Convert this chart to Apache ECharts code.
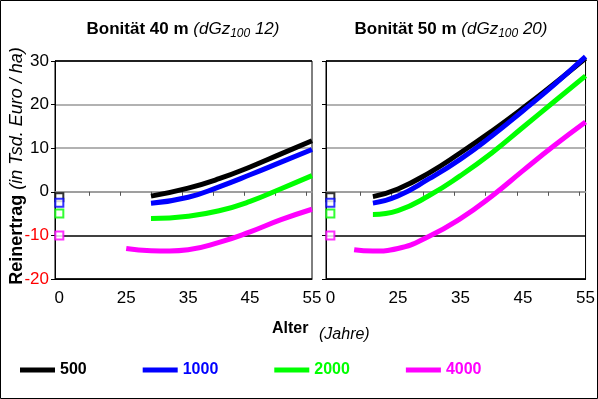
<!DOCTYPE html>
<html>
<head>
<meta charset="utf-8">
<script src="https://cdn.jsdelivr.net/npm/echarts@6/dist/echarts.min.js"></script>
<style>
	html, body { margin: 0; padding: 0; background: #fff; }
	#chart { width: 598px; height: 399px; }
</style>
</head>
<body>
<div id="chart"></div>
<script>
// Reihen / Pflanzenzahlen
var names = ['500', '1000', '2000', '4000'];
var colors = ['#000000', '#0000ff', '#00ff00', '#ff00ff'];

// Werte bei Alter 0 (Kulturkosten)
var startVals = [-1.25, -2.5, -5, -10];

// Bonität 40 m
var ages40 = [25, 29, 32, 35, 40, 45, 50, 55];
var black40 = [null, -1.0, null, 0.85, 3.0, 5.7, 8.7, 11.7];
var blue40 = [null, -2.65, null, -1.25, 1.15, 3.9, 6.8, 9.7];
var green40 = [null, -6.15, null, -5.6, -4.35, -2.2, 0.7, 3.7];
var pink40 = [-13.0, -13.5, -13.57, -13.3, -11.6, -9.2, -6.4, -4.0];

// Bonität 50 m
var ages50 = [18, 21, 25, 30, 35, 40, 45, 50, 55];
var black50 = [null, -1.1, 0.65, 4.35, 8.95, 13.9, 19.2, 24.8, 30.6];
var blue50 = [null, -2.6, -0.95, 3.0, 7.5, 12.8, 18.6, 24.6, 31.0];
var green50 = [null, -5.2, -4.3, -0.85, 3.7, 8.9, 14.8, 20.7, 26.6];
var pink50 = [-13.3, -13.6, -13.0, -10.2, -6.15, -1.0, 4.85, 10.6, 16.0];

// Achsen
var xLabels = [0, 25, 35, 45, 55];
var xTicks = [19, 24, 29, 34, 39, 44, 49, 54];
var zeroPos = 14.2; // Alter 0 wird links am Rand gezeichnet (Achsenbruch)

var font = "'Liberation Sans', Arial, sans-serif";

function pairs(ages, vals) {
	var out = [];
	for (var i = 0; i < ages.length; i++) {
		if (vals[i] !== null) out.push([ages[i], vals[i]]);
	}
	return out;
}

function xPos(v) {
	return v === 0 ? zeroPos : v;
}

var myChart = echarts.init(document.getElementById('chart'));

var data40 = [black40, blue40, green40, pink40];
var data50 = [black50, blue50, green50, pink50];

var series = [];
for (var i = 0; i < names.length; i++) {
	series.push({
		name: names[i], type: 'line', xAxisIndex: 0, yAxisIndex: 0,
		smooth: 0.5, symbol: 'none', color: colors[i], clip: false,
		lineStyle: { width: 5, color: colors[i] },
		data: pairs(ages40, data40[i]), z: 3
	});
	series.push({
		name: names[i], type: 'line', xAxisIndex: 2, yAxisIndex: 1,
		smooth: 0.5, symbol: 'none', color: colors[i], clip: false,
		lineStyle: { width: 5, color: colors[i] },
		data: pairs(ages50, data50[i]), z: 3
	});
}
for (var j = 0; j < names.length; j++) {
	var sq = {
		name: names[j], type: 'scatter', symbol: 'rect', symbolSize: 8,
		itemStyle: { color: '#fff', borderColor: colors[j], borderWidth: 2 },
		z: 4
	};
	series.push(echarts.util.merge({ xAxisIndex: 0, yAxisIndex: 0, data: [[xPos(0), startVals[j]]] }, sq, true));
	series.push(echarts.util.merge({ xAxisIndex: 2, yAxisIndex: 1, data: [[xPos(0), startVals[j]]] }, sq, true));
}

function labelAxis(gridIndex) {
	return {
		type: 'value', gridIndex: gridIndex, position: 'bottom',
		min: 13.5, max: 55,
		axisLine: { show: true, onZero: false, lineStyle: { color: '#000', width: 1 } },
		axisTick: { show: false },
		splitLine: { show: false },
		axisLabel: {
			customValues: xLabels.map(xPos),
			formatter: function(v) { return v < 20 ? '0' : String(v); },
			color: '#000', fontSize: 17, fontFamily: font, margin: 11
		}
	};
}

function zeroAxis(gridIndex) {
	return {
		type: 'value', gridIndex: gridIndex, position: 'top',
		min: 13.5, max: 55,
		axisLine: { show: true, onZero: true, lineStyle: { color: '#999', width: 1.5 } },
		axisTick: { show: true, inside: true, length: 4, customValues: xTicks, lineStyle: { color: '#555' } },
		axisLabel: { show: false },
		splitLine: { show: false }
	};
}

function yAxis(gridIndex, labels) {
	return {
		type: 'value', gridIndex: gridIndex,
		min: -20, max: 30, interval: 10,
		axisLine: { show: true, lineStyle: { color: '#000' } },
		axisTick: { show: true, length: 4, lineStyle: { color: '#000' } },
		splitLine: { show: true, lineStyle: { color: ['#000', '#000', '#999', '#999', '#999', '#000'], width: 1.5 } },
		axisLabel: {
			show: labels, fontSize: 17, fontFamily: font, margin: 6,
			color: function(v) { return parseFloat(v) < 0 ? '#ff0000' : '#000'; }
		}
	};
}

var titleRich = {
	b: { fontSize: 17, fontWeight: 'bold', lineHeight: 22, fontFamily: font },
	i: { fontSize: 17, fontStyle: 'italic', lineHeight: 22, fontFamily: font },
	s: { fontSize: 12, fontStyle: 'italic', lineHeight: 12, verticalAlign: 'bottom', fontFamily: font }
};

option = {
	animation: false,
	backgroundColor: '#fff',
	textStyle: { fontFamily: font },
	grid: [
		{ left: 55, top: 61, width: 257, height: 218, show: true, borderColor: '#000', borderWidth: 1, backgroundColor: '#fff' },
		{ left: 326, top: 61, width: 260, height: 218, show: true, borderColor: '#000', borderWidth: 1, backgroundColor: '#fff' }
	],
	xAxis: [labelAxis(0), zeroAxis(0), labelAxis(1), zeroAxis(1)],
	yAxis: [yAxis(0, true), yAxis(1, false)],
	legend: {
		left: 20, top: 362, padding: 0,
		icon: 'rect', itemWidth: 35, itemHeight: 5, itemGap: 56,
		textStyle: { fontSize: 16, fontWeight: 'bold', fontFamily: font },
		data: names.map(function(n, k) { return { name: n, textStyle: { color: colors[k] } }; })
	},
	graphic: [
		{ type: 'rect', shape: { x: 0.5, y: 0.5, width: 597, height: 398 }, style: { fill: null, stroke: '#000', lineWidth: 1 }, silent: true, z: 100 },
		{
			type: 'text', x: 183, y: 29,
			style: {
				text: '{b|Bonität 40 m} {i|(dGz}{s|100}{i| 12)}',
				align: 'center', verticalAlign: 'middle', font: '17px ' + font,
				rich: titleRich
			}
		},
		{
			type: 'text', x: 451, y: 29,
			style: {
				text: '{b|Bonität 50 m} {i|(dGz}{s|100}{i| 20)}',
				align: 'center', verticalAlign: 'middle', font: '17px ' + font,
				rich: titleRich
			}
		},
		{
			type: 'text', x: 17, y: 166, rotation: Math.PI / 2,
			style: {
				text: '{b|Reinertrag} {i|(in Tsd. Euro / ha)}',
				align: 'center', verticalAlign: 'middle', font: '18px ' + font,
				rich: {
					b: { fontSize: 18, fontWeight: 'bold', fontFamily: font },
					i: { fontSize: 18, fontStyle: 'italic', fontFamily: font }
				}
			}
		},
		{
			type: 'text', x: 272, y: 329,
			style: { text: 'Alter', align: 'left', verticalAlign: 'middle', font: 'bold 16px ' + font, fill: '#000' }
		},
		{
			type: 'text', x: 319, y: 335,
			style: { text: '(Jahre)', align: 'left', verticalAlign: 'middle', font: 'italic 16px ' + font, fill: '#000' }
		}
	],
	series: series
};

myChart.setOption(option);
</script>
</body>
</html>
